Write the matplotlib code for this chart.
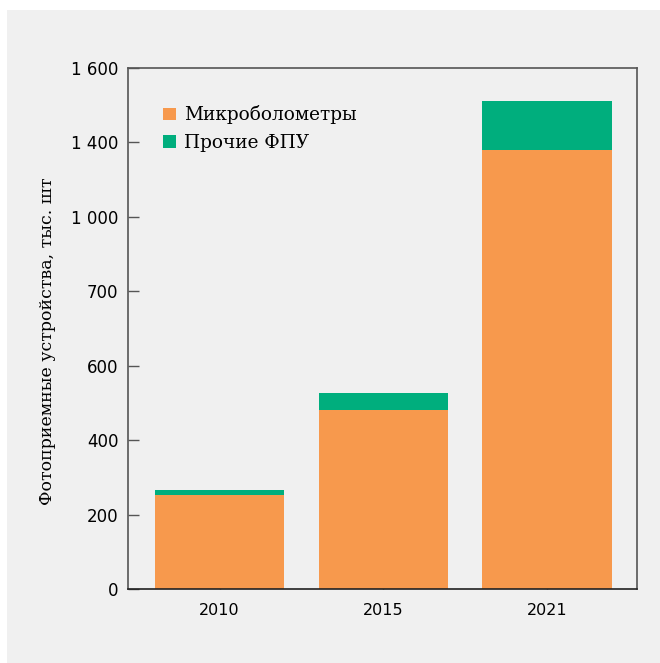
import matplotlib
matplotlib.use("Agg")
import matplotlib.pyplot as plt
from matplotlib.patches import Rectangle, Patch

# data (values in axis units, ticks every 200)
years = ["2010", "2015", "2021"]
microbolometers = [253, 481, 1180]
other_fpa = [13, 46, 131]
tick_pos = [0, 200, 400, 600, 800, 1000, 1200, 1400]
tick_labels = ["0", "200", "400", "600", "700", "1 000", "1 400", "1 600"]

orange = "#f7994d"
green = "#00ae7d"
bg = "#f0f0f0"

fig = plt.figure(figsize=(6.6, 6.63), dpi=100, facecolor="white")
# grey panel behind everything
fig.patches.append(Rectangle((7 / 660, 0), 1 - 7 / 660, 1 - 10 / 663,
                             transform=fig.transFigure, facecolor=bg,
                             edgecolor="none", zorder=-5))

ax = fig.add_axes([128 / 660, 1 - 589 / 663, 509 / 660, 521 / 663])
ax.set_zorder(2)
ax.set_facecolor(bg)

x = range(len(years))
ax.bar(x, microbolometers, width=0.79, color=orange, zorder=2)
ax.bar(x, other_fpa, width=0.79, bottom=microbolometers, color=green, zorder=2)

ax.set_xlim(-0.56, 2.55)
ax.set_ylim(0, 1400)
ax.set_xticks(list(x))
ax.set_xticklabels(years, fontsize=11.5)
ax.set_yticks(tick_pos)
ax.set_yticklabels(tick_labels, fontsize=12)
ax.tick_params(axis="y", direction="in", length=8, width=1, color="#555555", pad=7)
ax.tick_params(axis="x", direction="in", length=3, width=1, color="#555555", pad=10)

for side in ["left", "right", "top"]:
    ax.spines[side].set_color("#555555")
    ax.spines[side].set_linewidth(1.2)
ax.spines["bottom"].set_color("#222222")
ax.spines["bottom"].set_linewidth(1.2)

ax.set_ylabel("Фотоприемные устройства, тыс. шт", family="DejaVu Serif",
              fontsize=12.5)
ax.yaxis.set_label_coords(-0.142, 0.475)

handles = [Patch(facecolor=orange, label="Микроболометры"),
           Patch(facecolor=green, label="Прочие ФПУ")]
ax.legend(handles=handles, loc="upper left", bbox_to_anchor=(0.036, 0.96),
          frameon=False, prop={"family": "DejaVu Serif", "size": 13.3},
          handlelength=0.7, handleheight=0.7, handletextpad=0.45,
          labelspacing=0.5)

fig.savefig("out.png", dpi=100, facecolor=fig.get_facecolor())
